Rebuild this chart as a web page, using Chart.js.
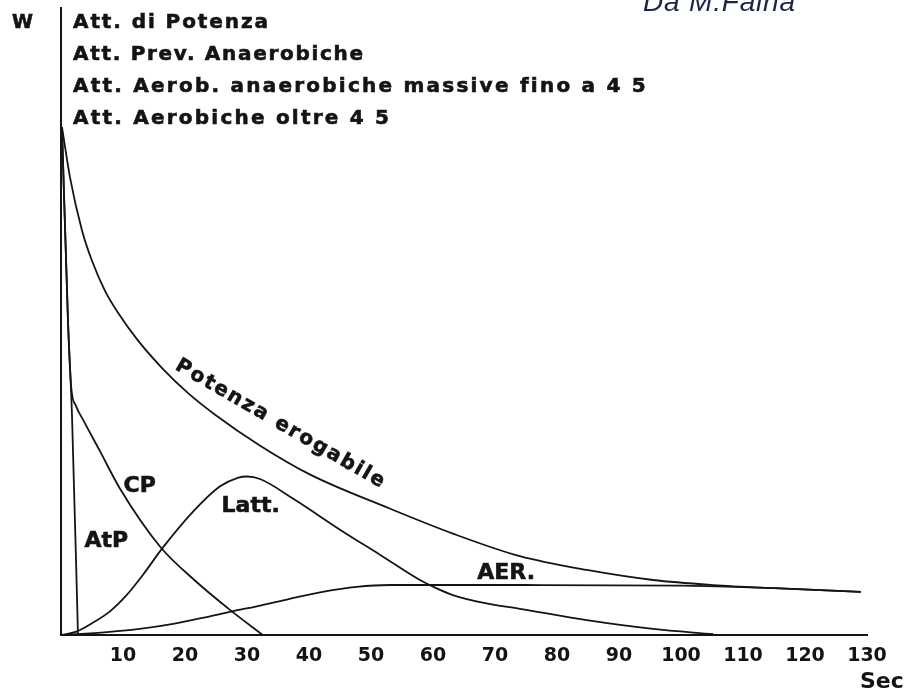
<!DOCTYPE html>
<html>
<head>
<meta charset="utf-8">
<script src="https://cdn.jsdelivr.net/npm/chart.js@4"></script>
<style>
  html, body { margin: 0; padding: 0; background: #fff; }
</style>
</head>
<body>
<canvas id="myChart" width="908" height="693"></canvas>
<script>

// values: seconds on x, power (arbitrary 0-100) on y
const atpSec = [0.16, 1.13, 1.77, 2.74];
const atpVal = [81, 50, 35.2, 0];

const cpSec = [0.16, 1.13, 1.65, 2.4, 3.7, 6.2, 9.5, 16, 21.5, 27.3, 32.6];
const cpVal = [81, 50, 39.5, 36.6, 34.1, 29.5, 23.4, 14.1, 8.8, 4, 0];

const potSec = [0.16, 1.45, 3.4, 5.0, 7.1, 9.2, 12.4, 16.3, 20.5, 24.8, 32, 40.2, 53, 63.2, 74, 84.8, 95.5, 105.2, 115, 129];
const potVal = [81, 73, 64.5, 59.7, 54.9, 51.4, 47, 42.6, 38.6, 35.2, 30.3, 25.6, 20.2, 16.2, 12.6, 10.4, 8.8, 8.0, 7.5, 6.9];

const lattSec = [0, 2.6, 5, 7.9, 10.5, 13.2, 16.3, 21.3, 25.6, 28.5, 30, 32.1, 37.4, 45.5, 51.5, 57.9, 60.5, 63.2, 68.4, 74, 84.8, 95.5, 105.2];
const lattVal = [0, 0.6, 1.9, 3.8, 6.3, 9.6, 13.8, 19.7, 23.7, 25.1, 25.3, 24.9, 21.8, 16.5, 12.8, 8.8, 7.5, 6.4, 5.1, 4.2, 2.4, 1, 0.15];

const aerSec = [0, 7.4, 12.7, 18.1, 23.5, 27.6, 31.6, 36.9, 42.2, 47.7, 53, 58.4, 75, 100, 106, 115, 129];
const aerVal = [0, 0.5, 1, 1.8, 2.9, 3.8, 4.6, 5.8, 6.9, 7.7, 8, 8, 8, 7.9, 7.8, 7.5, 6.9];

const xTickLabels = [10, 20, 30, 40, 50, 60, 70, 80, 90, 100, 110, 120, 130];

const headerLines = [
  "Att. di Potenza",
  "Att. Prev. Anaerobiche",
  "Att. Aerob. anaerobiche massive fino a 4 5",
  "Att. Aerobiche oltre 4 5"
];

function pts(xs, ys) {
  return xs.map((x, i) => ({ x: x, y: ys[i] }));
}

function line(data) {
  return {
    data: data,
    showLine: true,
    pointRadius: 0,
    borderColor: '#151515',
    borderWidth: 1.8,
    cubicInterpolationMode: 'monotone'
  };
}

// draws text stretched with letter spacing to a given width (a thin stroke makes it heavier, like the scan)
function spaced(ctx, text, x, y, width) {
  ctx.letterSpacing = '0px';
  const w = ctx.measureText(text).width;
  const sp = text.length > 1 ? (width - w) / (text.length - 1) : 0;
  ctx.letterSpacing = sp + 'px';
  ctx.textAlign = 'left';
  ctx.fillText(text, x, y);
  ctx.strokeText(text, x, y);
  ctx.letterSpacing = '0px';
}

function spacedCenter(ctx, text, cx, cy, width) {
  ctx.textBaseline = 'middle';
  spaced(ctx, text, cx - width / 2, cy, width);
  ctx.textBaseline = 'alphabetic';
}

function label(ctx, text, cx, cy) {
  ctx.textAlign = 'center';
  ctx.textBaseline = 'middle';
  ctx.fillText(text, cx, cy);
  ctx.strokeText(text, cx, cy);
  ctx.textBaseline = 'alphabetic';
}

const headerBase = [28, 60, 92, 124];
const headerWidth = [195, 290, 572, 316];

const textPlugin = {
  id: 'texts',
  afterDraw(chart) {
    const ctx = chart.ctx;
    const xs = chart.scales.x, ys = chart.scales.y;
    ctx.save();
    ctx.fillStyle = '#141414';
    ctx.strokeStyle = '#141414';
    ctx.lineWidth = 0.6;

    ctx.font = 'bold 19px "DejaVu Sans"';
    spaced(ctx, 'W', 12, 28, 23);
    ctx.font = 'bold 20px "DejaVu Sans"';
    headerLines.forEach((t, i) => spaced(ctx, t, 73, headerBase[i], headerWidth[i]));

    ctx.font = 'bold 22px "DejaVu Sans"';
    ctx.textAlign = 'left';
    ctx.fillText('Sec', 860, 688);

    // curve labels, placed in data units
    ctx.font = 'bold 22px "DejaVu Sans"';
    label(ctx, 'CP', xs.getPixelForValue(12.7), ys.getPixelForValue(23.8));
    label(ctx, 'AtP', xs.getPixelForValue(7.3), ys.getPixelForValue(14.9));
    label(ctx, 'Latt.', xs.getPixelForValue(30.6), ys.getPixelForValue(20.6));
    label(ctx, 'AER.', xs.getPixelForValue(71.8), ys.getPixelForValue(9.9));

    ctx.save();
    ctx.font = 'bold 20px "DejaVu Sans"';
    ctx.translate(xs.getPixelForValue(35.3), ys.getPixelForValue(33.7));
    ctx.rotate(30 * Math.PI / 180);
    spacedCenter(ctx, 'Potenza erogabile', 0, 0, 238);
    ctx.restore();

    ctx.fillStyle = '#1c2444';
    ctx.font = 'italic 28px "Liberation Sans"';
    ctx.textAlign = 'left';
    ctx.letterSpacing = '0px';
    const w = ctx.measureText('Da M.Faina').width;
    ctx.letterSpacing = ((152 - w) / 9) + 'px';
    ctx.fillText('Da M.Faina', 643, 11);
    ctx.restore();
  }
};

const chart = new Chart(document.getElementById('myChart'), {
  type: 'scatter',
  data: {
    datasets: [
      line(pts(atpSec, atpVal)),
      line(pts(cpSec, cpVal)),
      line(pts(potSec, potVal)),
      line(pts(lattSec, lattVal)),
      line(pts(aerSec, aerVal))
    ]
  },
  options: {
    responsive: false,
    animation: false,
    layout: { padding: { left: 61, top: 8, right: 41, bottom: 17 } },
    plugins: { legend: { display: false }, tooltip: { enabled: false } },
    scales: {
      x: {
        type: 'linear',
        min: 0,
        max: 130,
        grid: { display: false, drawTicks: false },
        border: { display: true, color: '#151515', width: 2 },
        ticks: {
          stepSize: 10,
          padding: 9,
          color: '#141414',
          font: { family: 'DejaVu Sans', size: 19, weight: 'bold' },
          maxRotation: 0,
          autoSkip: false,
          callback: (v) => xTickLabels.includes(v) ? String(v) : ''
        }
      },
      y: {
        min: 0,
        max: 100,
        grid: { display: false, drawTicks: false },
        border: { display: true, color: '#151515', width: 2 },
        ticks: { display: false }
      }
    }
  },
  plugins: [textPlugin]
});
</script>
</body>
</html>
